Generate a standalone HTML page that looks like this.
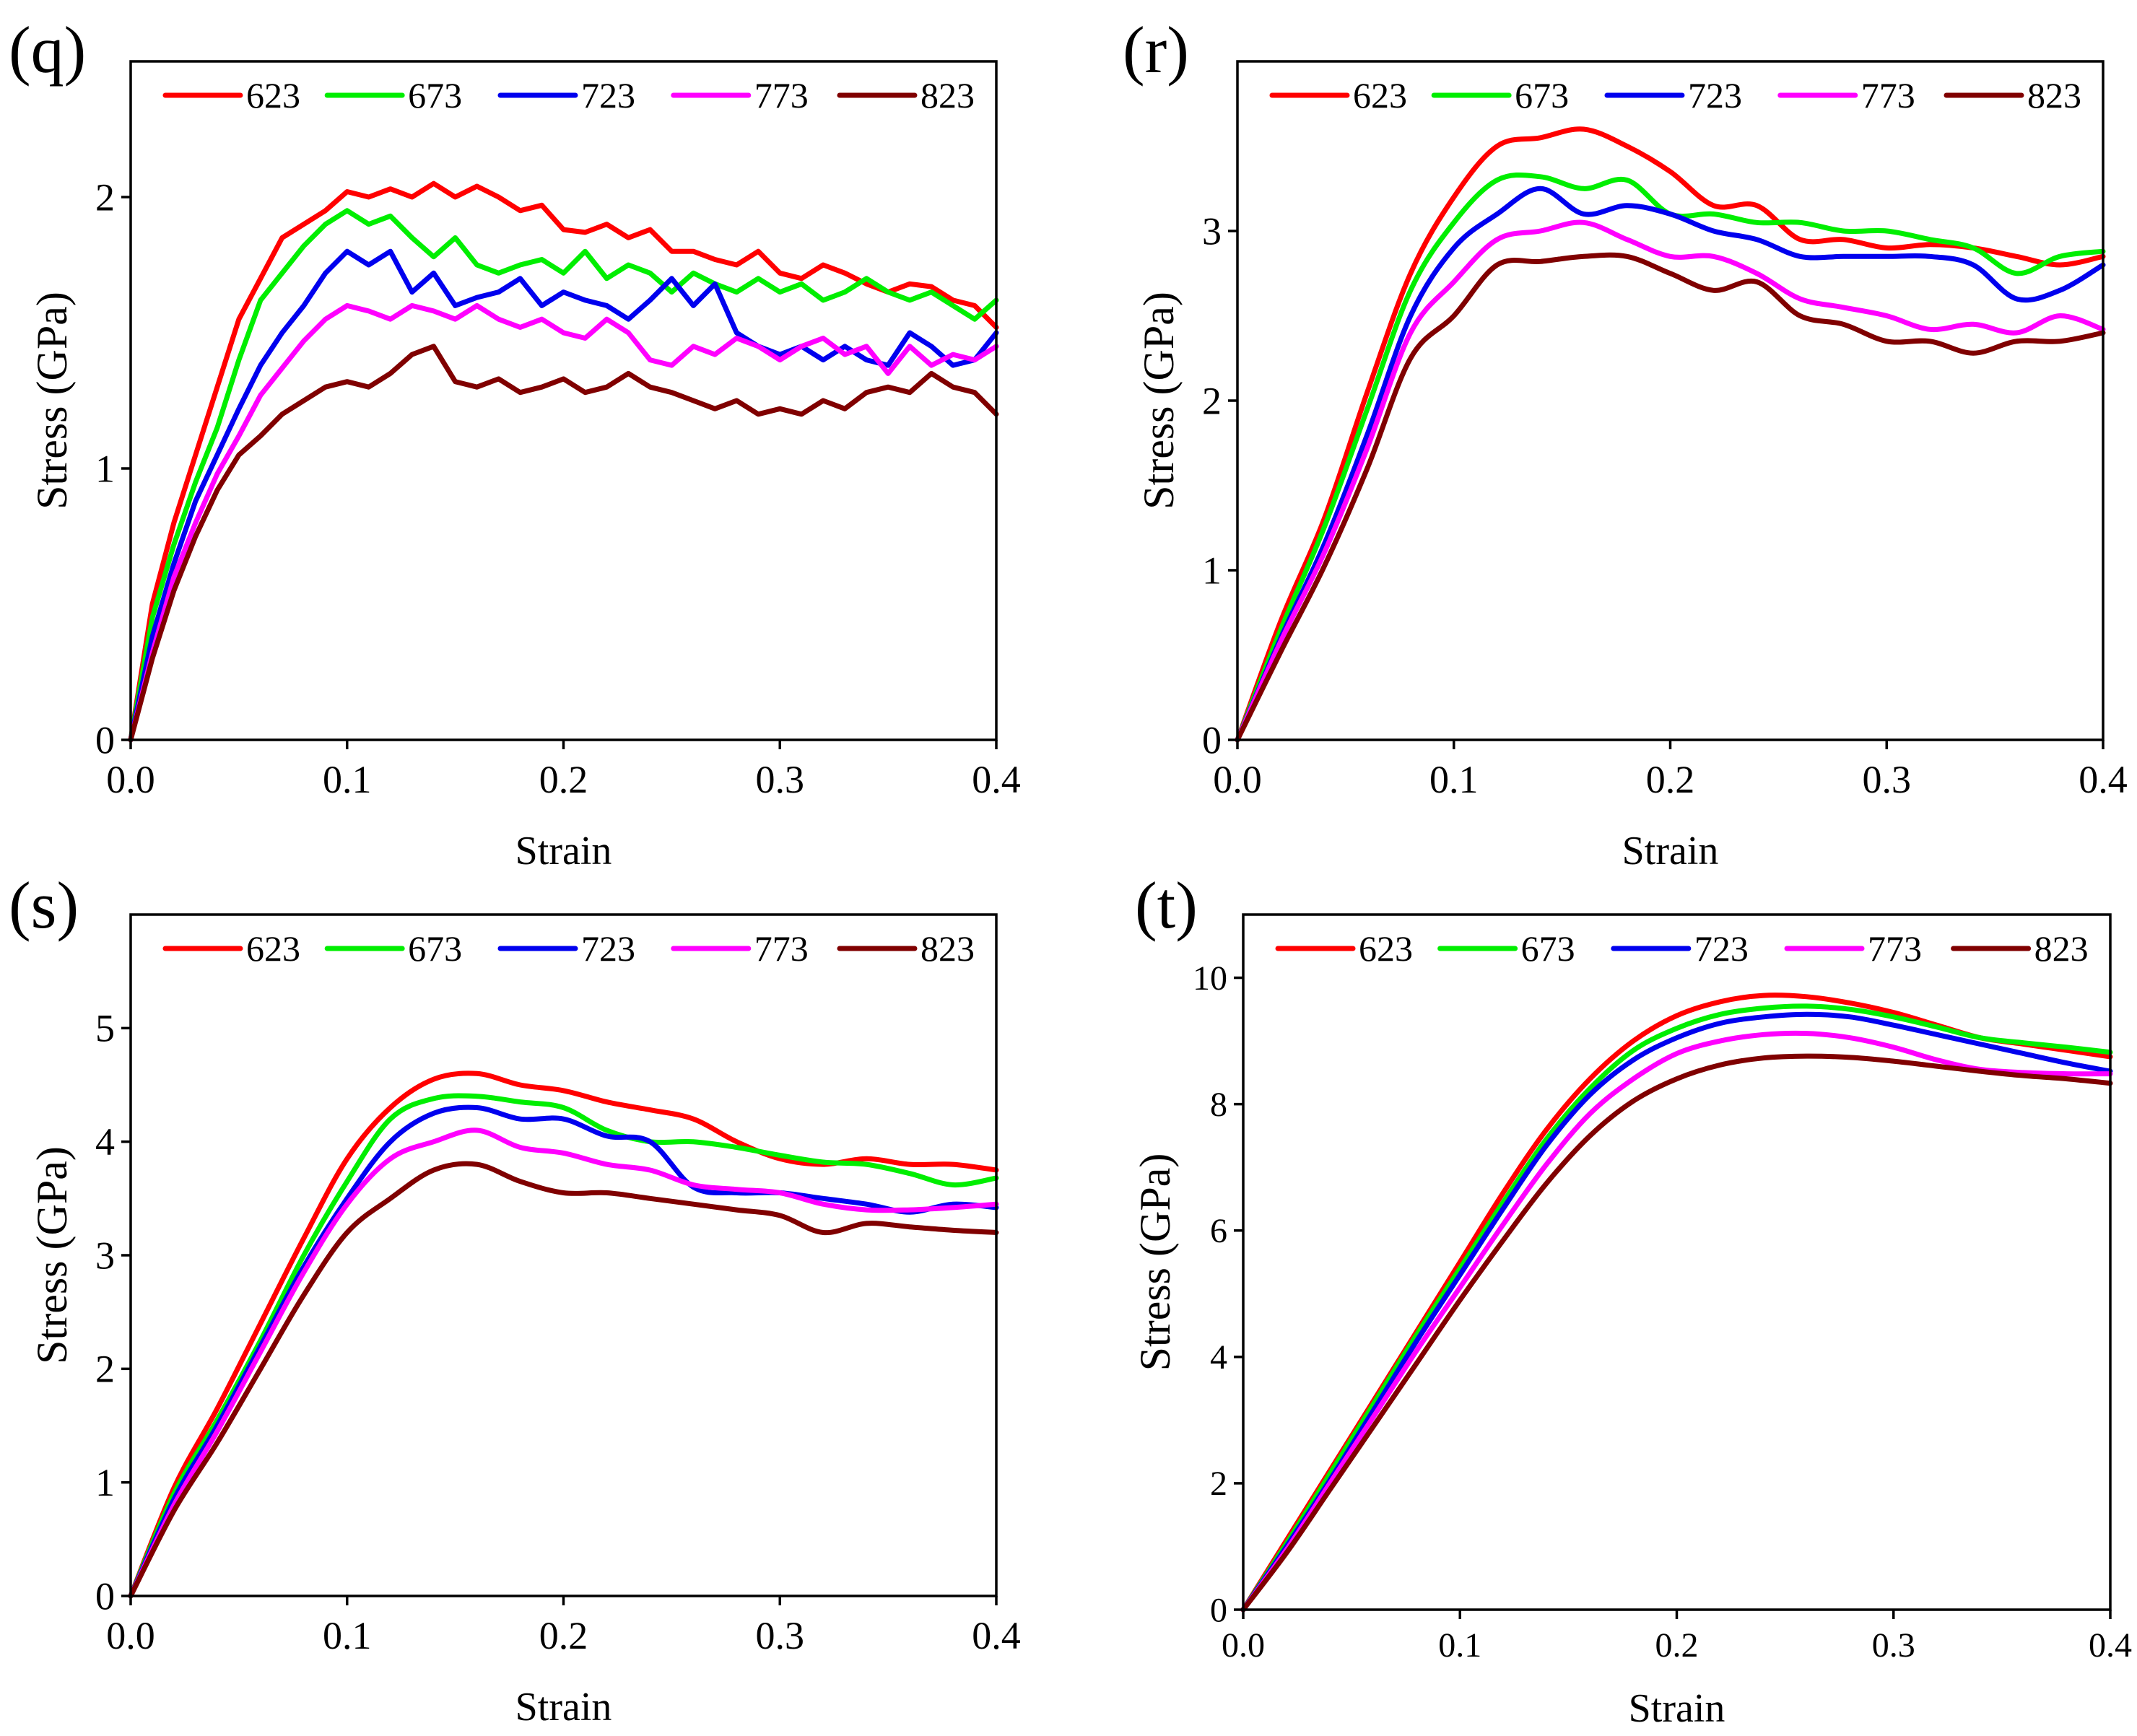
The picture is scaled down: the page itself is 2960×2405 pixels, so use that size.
<!DOCTYPE html>
<html><head><meta charset="utf-8"><style>
html,body{margin:0;padding:0;background:#fff;}
svg{display:block;font-family:"Liberation Serif",serif;}
</style></head><body>
<svg id="fig" width="2960" height="2405" viewBox="0 0 2960 2405" xmlns="http://www.w3.org/2000/svg"></svg>
<script>
const temps = ["623","673","723","773","823"];
const colors = ["#ff0000","#00ee00","#0000ee","#ff00ff","#800000"];
const xTickLabels = ["0.0","0.1","0.2","0.3","0.4"];

const qX = [0,0.01,0.02,0.03,0.04,0.05,0.06,0.07,0.08,0.09,0.10,0.11,0.12,0.13,0.14,0.15,0.16,0.17,0.18,0.19,0.20,0.21,0.22,0.23,0.24,0.25,0.26,0.27,0.28,0.29,0.30,0.31,0.32,0.33,0.34,0.35,0.36,0.37,0.38,0.39,0.40];
const q623 = [0,0.5,0.8,1.05,1.3,1.55,1.7,1.85,1.9,1.95,2.02,2.0,2.03,2.0,2.05,2.0,2.04,2.0,1.95,1.97,1.88,1.87,1.9,1.85,1.88,1.8,1.8,1.77,1.75,1.8,1.72,1.7,1.75,1.72,1.68,1.65,1.68,1.67,1.62,1.6,1.52];
const q673 = [0,0.45,0.72,0.95,1.15,1.4,1.62,1.72,1.82,1.9,1.95,1.9,1.93,1.85,1.78,1.85,1.75,1.72,1.75,1.77,1.72,1.8,1.7,1.75,1.72,1.65,1.72,1.68,1.65,1.7,1.65,1.68,1.62,1.65,1.7,1.65,1.62,1.65,1.6,1.55,1.62];
const q723 = [0,0.38,0.65,0.88,1.05,1.22,1.38,1.5,1.6,1.72,1.8,1.75,1.8,1.65,1.72,1.6,1.63,1.65,1.7,1.6,1.65,1.62,1.6,1.55,1.62,1.7,1.6,1.68,1.5,1.45,1.42,1.45,1.4,1.45,1.4,1.38,1.5,1.45,1.38,1.4,1.5];
const q773 = [0,0.32,0.6,0.8,0.98,1.12,1.27,1.37,1.47,1.55,1.6,1.58,1.55,1.6,1.58,1.55,1.6,1.55,1.52,1.55,1.5,1.48,1.55,1.5,1.4,1.38,1.45,1.42,1.48,1.45,1.4,1.45,1.48,1.42,1.45,1.35,1.45,1.38,1.42,1.4,1.45];
const q823 = [0,0.3,0.55,0.75,0.92,1.05,1.12,1.2,1.25,1.3,1.32,1.3,1.35,1.42,1.45,1.32,1.3,1.33,1.28,1.3,1.33,1.28,1.3,1.35,1.3,1.28,1.25,1.22,1.25,1.2,1.22,1.2,1.25,1.22,1.28,1.3,1.28,1.35,1.3,1.28,1.2];

const sX = [0,0.02,0.04,0.06,0.08,0.10,0.12,0.14,0.16,0.18,0.20,0.22,0.24,0.26,0.28,0.30,0.32,0.34,0.36,0.38,0.40];
const r623 = [0,0.7,1.3,2.05,2.75,3.2,3.5,3.55,3.6,3.5,3.35,3.15,3.15,2.95,2.95,2.9,2.92,2.9,2.85,2.8,2.85];
const r673 = [0,0.65,1.25,1.95,2.65,3.05,3.3,3.32,3.25,3.3,3.1,3.1,3.05,3.05,3.0,3.0,2.95,2.9,2.75,2.85,2.88];
const r723 = [0,0.6,1.15,1.8,2.5,2.9,3.1,3.25,3.1,3.15,3.1,3.0,2.95,2.85,2.85,2.85,2.85,2.8,2.6,2.65,2.8];
const r773 = [0,0.58,1.1,1.72,2.4,2.7,2.95,3.0,3.05,2.95,2.85,2.85,2.75,2.6,2.55,2.5,2.42,2.45,2.4,2.5,2.42];
const r823 = [0,0.52,1.02,1.6,2.25,2.5,2.8,2.82,2.85,2.85,2.75,2.65,2.7,2.5,2.45,2.35,2.35,2.28,2.35,2.35,2.4];

const s623 = [0,0.95,1.65,2.4,3.15,3.85,4.3,4.55,4.6,4.5,4.45,4.35,4.28,4.2,4.0,3.85,3.8,3.85,3.8,3.8,3.75];
const s673 = [0,0.9,1.55,2.25,3.0,3.65,4.2,4.38,4.4,4.35,4.3,4.1,4.0,4.0,3.95,3.88,3.82,3.8,3.72,3.62,3.68];
const s723 = [0,0.85,1.5,2.2,2.9,3.5,4.0,4.25,4.3,4.2,4.2,4.05,4.0,3.6,3.55,3.55,3.5,3.45,3.38,3.45,3.42];
const s773 = [0,0.8,1.45,2.15,2.85,3.45,3.85,4.0,4.1,3.95,3.9,3.8,3.75,3.62,3.58,3.55,3.45,3.4,3.4,3.42,3.45];
const s823 = [0,0.75,1.35,2.0,2.65,3.2,3.5,3.75,3.8,3.65,3.55,3.55,3.5,3.45,3.4,3.35,3.2,3.28,3.25,3.22,3.2];

const t623 = [0,1.1,2.2,3.3,4.4,5.5,6.6,7.6,8.4,9.0,9.4,9.62,9.72,9.7,9.6,9.45,9.25,9.05,8.95,8.85,8.75];
const t673 = [0,1.05,2.15,3.25,4.35,5.4,6.45,7.45,8.25,8.85,9.2,9.42,9.52,9.55,9.5,9.38,9.22,9.05,8.97,8.9,8.82];
const t723 = [0,1.0,2.05,3.15,4.25,5.3,6.35,7.35,8.15,8.7,9.05,9.28,9.38,9.42,9.38,9.25,9.1,8.95,8.8,8.65,8.52];
const t773 = [0,0.95,2.0,3.05,4.1,5.1,6.1,7.05,7.85,8.4,8.8,9.0,9.1,9.12,9.05,8.9,8.7,8.55,8.5,8.48,8.48];
const t823 = [0,0.9,1.9,2.9,3.9,4.9,5.85,6.75,7.5,8.05,8.4,8.62,8.73,8.76,8.74,8.68,8.6,8.52,8.45,8.4,8.33];

const qYTicks = [0,1,2];
const rYTicks = [0,1,2,3];
const sYTicks = [0,1,2,3,4,5];
const tYTicks = [0,2,4,6,8,10];

const NS = "http://www.w3.org/2000/svg";
const fig = document.getElementById('fig');
function mk(tag, attrs, parent){
  const e = document.createElementNS(NS, tag);
  for (const k in attrs) e.setAttribute(k, attrs[k]);
  (parent||fig).appendChild(e);
  return e;
}
function linePath(pts){ return pts.map((p,i)=>(i?'L':'M')+p[0].toFixed(1)+','+p[1].toFixed(1)).join(''); }
function smoothPath(p){
  let d='M'+p[0][0].toFixed(1)+','+p[0][1].toFixed(1);
  for(let i=0;i<p.length-1;i++){
    const p0=p[Math.max(0,i-1)],p1=p[i],p2=p[i+1],p3=p[Math.min(p.length-1,i+2)];
    const c1=[p1[0]+(p2[0]-p0[0])/6,p1[1]+(p2[1]-p0[1])/6];
    const c2=[p2[0]-(p3[0]-p1[0])/6,p2[1]-(p3[1]-p1[1])/6];
    d+='C'+c1[0].toFixed(1)+','+c1[1].toFixed(1)+' '+c2[0].toFixed(1)+','+c2[1].toFixed(1)+' '+p2[0].toFixed(1)+','+p2[1].toFixed(1);
  }
  return d;
}

function panel(cfg){
  const {id,L,R,T,B,ymax,yticks,xs,series,smooth,fs,lx,lyb,ty,xtOff} = cfg;
  const g = mk('g',{});
  
  
  const sx = v => L + v/0.4*(R-L);
  const sy = v => B - v/ymax*(B-T);
  series.forEach((vals,si)=>{
    const pts = vals.map((v,i)=>[sx(xs[i]), sy(v)]);
    const p = mk('path',{d: smooth?smoothPath(pts):linePath(pts), fill:'none', stroke:colors[si], 'stroke-width':7, 'stroke-linejoin':'round','stroke-linecap':'round'}, g);
    
    
  });
  const fr = mk('rect',{x:L,y:T,width:R-L,height:B-T,fill:'none',stroke:'#000','stroke-width':3.5}, g);
  
  
  xTickLabels.forEach((lab,i)=>{
    const x = sx(i*0.1);
    mk('line',{x1:x,x2:x,y1:B,y2:B+13,stroke:'#000','stroke-width':3.5},g);
    const t = mk('text',{x:x,y:B+fs*1.35,'text-anchor':'middle','font-size':fs},g);
    t.textContent = lab;
    
    
  });
  yticks.forEach(v=>{
    const y = sy(v);
    mk('line',{x1:L-13,x2:L,y1:y,y2:y,stroke:'#000','stroke-width':3.5},g);
    const t = mk('text',{x:L-22,y:y+fs*0.34,'text-anchor':'end','font-size':fs},g);
    t.textContent = String(v);
    
    
  });
  const xt = mk('text',{x:(L+R)/2,y:B+xtOff,'text-anchor':'middle','font-size':56},g);
  xt.textContent = 'Strain';
  
  
  const yt = mk('text',{x:0,y:0,'text-anchor':'middle','font-size':60,transform:'translate('+ty+','+((T+B)/2)+') rotate(-90)'},g);
  yt.textContent = 'Stress (GPa)';
  
  
  const pl = mk('text',{x:lx,y:lyb,'font-size':92},g);
  pl.textContent = '('+id+')';
  
  
  const offs = [0.04,0.227,0.427,0.627,0.819];
  const legY = T + 47;
  temps.forEach((tp,i)=>{
    const x0 = L + offs[i]*(R-L);
    const lg = mk('g',{},g);
    
    
    mk('line',{x1:x0,x2:x0+104,y1:legY,y2:legY,stroke:colors[i],'stroke-width':7,'stroke-linecap':'round'},lg);
    const t = mk('text',{x:x0+112,y:legY+17,'font-size':50},lg);
    t.textContent = tp;
  });
}

panel({id:'q',L:181,R:1380,T:85,B:1025,ymax:2.5,yticks:qYTicks,xs:qX,series:[q623,q673,q723,q773,q823],smooth:false,fs:54,lx:12,lyb:100,ty:92,xtOff:172});
panel({id:'r',L:1714,R:2913,T:85,B:1025,ymax:4,yticks:rYTicks,xs:sX,series:[r623,r673,r723,r773,r823],smooth:true,fs:54,lx:1555,lyb:100,ty:1625,xtOff:172});
panel({id:'s',L:181,R:1380,T:1267,B:2211,ymax:6,yticks:sYTicks,xs:sX,series:[s623,s673,s723,s773,s823],smooth:true,fs:54,lx:12,lyb:1285,ty:92,xtOff:172});
panel({id:'t',L:1722,R:2923,T:1267,B:2230,ymax:11,yticks:tYTicks,xs:sX,series:[t623,t673,t723,t773,t823],smooth:true,fs:48,lx:1572,lyb:1285,ty:1620,xtOff:155});
</script>
</body></html>
